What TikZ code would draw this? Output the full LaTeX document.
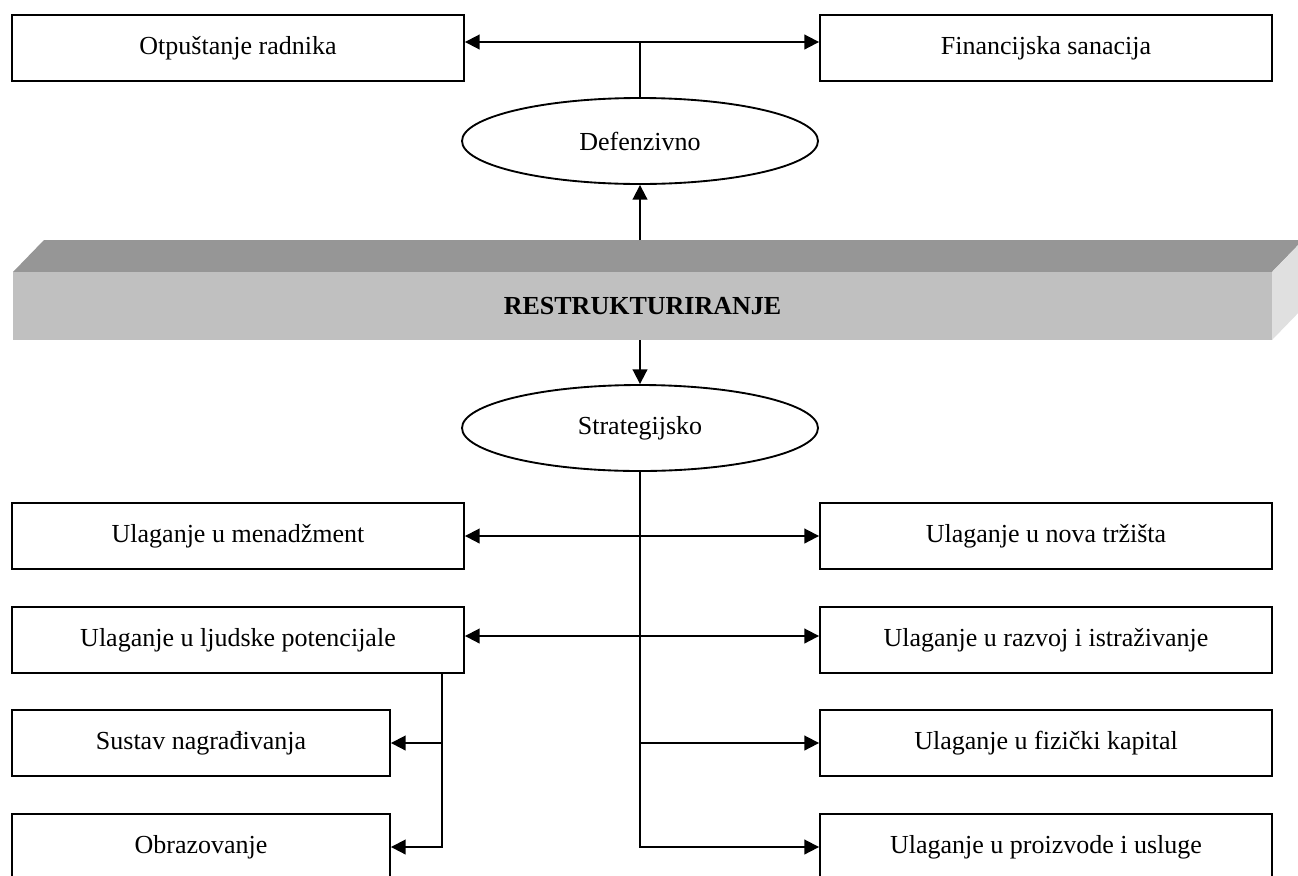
\documentclass[tikz,border=0pt]{standalone}
\usepackage{fontspec}
\setmainfont{Liberation Serif}
\usetikzlibrary{arrows.meta,shapes.geometric,calc}
\definecolor{topgray}{HTML}{969696}
\definecolor{frontgray}{HTML}{C0C0C0}
\definecolor{sidegray}{HTML}{E0E0E0}
\tikzset{
  box/.style={draw, line width=1.4pt, rectangle, minimum width={452*0.75pt}, minimum height={66*0.75pt}, inner sep=0pt, font=\fontsize{19.5}{22}\selectfont},
  smallbox/.style={box, minimum width={378*0.75pt}},
  oval/.style={draw, line width=1.4pt, ellipse, minimum width={356*0.75pt}, minimum height={86*0.75pt}, inner sep=0pt, font=\fontsize{19.5}{22}\selectfont},
  conn/.style={line width=1.4pt},
  arr/.style={conn, -{Triangle[length=11pt,width=11pt]}},
  darr/.style={conn, {Triangle[length=11pt,width=11pt]}-{Triangle[length=11pt,width=11pt]}}
}
\begin{document}
\begin{tikzpicture}[x=0.75pt,y=-0.75pt]
\useasboundingbox (0,0) rectangle (1298,875);
% banner
\fill[topgray] (13,272) -- (44,240) -- (1303,240) -- (1272,272) -- cycle;
\fill[sidegray] (1272,272) -- (1303,240) -- (1303,308) -- (1272,340) -- cycle;
\node[fill=frontgray, minimum width={1259*0.75pt}, minimum height={68*0.75pt}, inner sep=0pt, font=\bfseries\fontsize{19.5}{22}\selectfont] (rest) at (642.5,306) {RESTRUKTURIRANJE};
\coordinate (bt) at (640,240);
% top
\node[box] (otp) at (238,48) {Otpuštanje radnika};
\node[box] (fin) at (1046,48) {Financijska sanacija};
\node[oval] (def) at (640,141) {Defenzivno};
\node[oval] (str) at (640,428) {Strategijsko};
% bottom
\node[box] (men) at (238,536) {Ulaganje u menadžment};
\node[box] (nova) at (1046,536) {Ulaganje u nova tržišta};
\node[box] (ljud) at (238,640) {Ulaganje u ljudske potencijale};
\node[box] (razv) at (1046,640) {Ulaganje u razvoj i istraživanje};
\node[smallbox] (sus) at (201,743) {Sustav nagrađivanja};
\node[box] (fiz) at (1046,743) {Ulaganje u fizički kapital};
\node[smallbox] (obr) at (201,847) {Obrazovanje};
\node[box] (pro) at (1046,847) {Ulaganje u proizvode i usluge};
\coordinate (lj) at (442,673);
% connectors
\draw[darr] ($(otp.east)+(0,-6)$) -- ($(fin.west)+(0,-6)$);
\draw[conn] (def.north) -- ($(def.north |- otp.east)+(0,-6)$);
\draw[arr] (def.south |- bt) -- (def.south);
\draw[arr] (str.north |- rest.south) -- (str.north);
\draw[darr] (men.east) -- (nova.west);
\draw[darr] ($(ljud.east)+(0,-4)$) -- ($(razv.west)+(0,-4)$);
\draw[arr] (str.south) |- (pro.west);
\draw[arr] (str.south |- fiz.west) -- (fiz.west);
\draw[arr] (lj) |- (obr.east);
\draw[arr] (lj |- sus.east) -- (sus.east);
\end{tikzpicture}
\end{document}
